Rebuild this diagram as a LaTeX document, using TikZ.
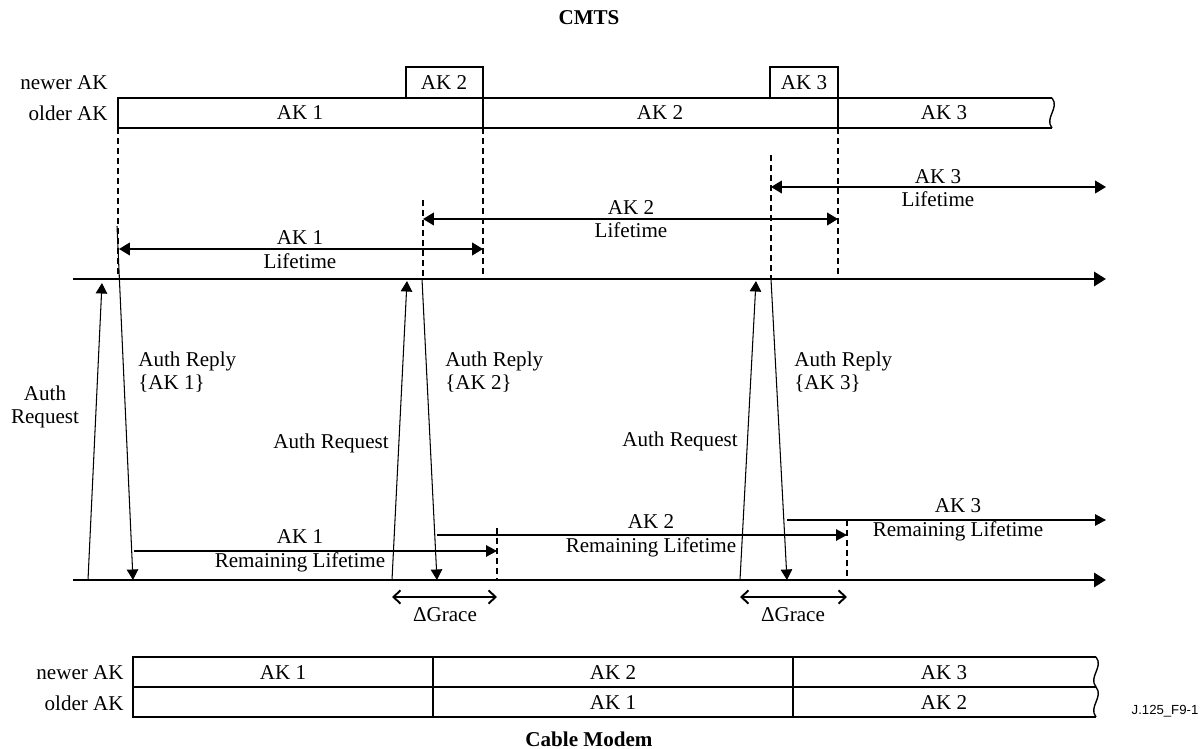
\documentclass[tikz,border=0pt]{standalone}
\usepackage{fontspec}
\setmainfont{Liberation Serif}
\newfontfamily\tagfont{Liberation Sans}
\usetikzlibrary{arrows.meta}
\tikzset{
  lbl/.style={font=\fontsize{12}{13.5}\selectfont, inner sep=0pt, align=center},
  head/.style={font=\fontsize{12}{13.5}\selectfont\bfseries, inner sep=0pt},
  timeline/.style={line width=1.6pt, -{Triangle[length=6.8pt,width=8pt]}},
  msg/.style={line width=0.6pt, -{Triangle[length=6pt,width=6.5pt]}},
  life/.style={line width=1pt, {Triangle[length=6.2pt,width=7.2pt]}-{Triangle[length=6.2pt,width=7.2pt]}},
  remain/.style={line width=0.7pt, -{Triangle[length=6.2pt,width=6.5pt]}},
  grace/.style={line width=1.1pt, {Straight Barb[length=4pt,width=7.5pt]}-{Straight Barb[length=4pt,width=7.5pt]}},
  guide/.style={line width=0.6pt, dash pattern=on 3.4pt off 2.3pt},
  akbox/.style={line width=0.8pt},
}
\newcommand\wavyend[3]{% x, top, bottom
  \draw[akbox] (#1,#2) .. controls (#1+8,#2+10) and (#1-8,#3-10) .. (#1,#3);}

\begin{document}
\begin{tikzpicture}[x=0.02cm,y=-0.02cm]
            \useasboundingbox (0,0) rectangle (1204,749);
              % Titles
              \node[head] (cmts) at (589,18) {CMTS};
              \node[head] (cm) at (589,739) {Cable Modem};
              \node[font=\tagfont\fontsize{7.5}{9}\selectfont, inner sep=0pt] (tag) at (1165,711) {J.125\_F9-1};

              % CMTS key table
              \node[lbl, anchor=east] (tnew) at (108,83) {newer AK};
              \node[lbl, anchor=east] (told) at (108,113) {older AK};
              \draw[akbox] (406,98) |- (483,67) -- (483,128);
              \draw[akbox] (770,98) |- (838,67) -- (838,128);
              \draw[akbox] (1052,98) -- (118,98) -- (118,128) -- (1052,128);
              \wavyend{1052}{98}{128}
              \node[lbl] (tn2) at (444,83) {AK 2};
              \node[lbl] (tn3) at (804,83) {AK 3};
              \node[lbl] (to1) at (300,113) {AK 1};
              \node[lbl] (to2) at (660,113) {AK 2};
              \node[lbl] (to3) at (944,113) {AK 3};

              % Time lines
              \coordinate (cmtsA) at (73,279);
              \coordinate (cmtsB) at (1106,279);
              \coordinate (cmA) at (73,580);
              \coordinate (cmB) at (1106,580);
              \draw[timeline] (cmtsA) -- (cmtsB);
              \draw[timeline] (cmA) -- (cmB);

              % Lifetimes at the CMTS
              \draw[guide] (118,128) -- (118,279);
              \draw[guide] (483,128) -- (483,279);
              \draw[guide] (838,128) -- (838,279);
              \draw[guide] (423,200) -- (423,279);
              \draw[guide] (771,155) -- (771,279);
              \coordinate (l1a) at (119,249);
              \coordinate (l1b) at (483,249);
              \coordinate (l2a) at (423,219);
              \coordinate (l2b) at (838,219);
              \coordinate (l3a) at (771,187);
              \coordinate (l3b) at (1106,187);
              \draw[life] (l1a) -- (l1b);
              \draw[life] (l2a) -- (l2b);
              \draw[life] (l3a) -- (l3b);
              \node[lbl] (life1) at (300,250) {AK 1\\Lifetime};
              \node[lbl] (life2) at (631,219) {AK 2\\Lifetime};
              \node[lbl] (life3) at (938,188) {AK 3\\Lifetime};

              % Requests and replies
              \coordinate (req1a) at (88,580);
              \coordinate (req1b) at (102,283);
              \coordinate (rep1a) at (117,226);
              \coordinate (rep1b) at (133,580);
              \coordinate (req2a) at (392,580);
              \coordinate (req2b) at (407,281);
              \coordinate (rep2a) at (422,279);
              \coordinate (rep2b) at (437,580);
              \coordinate (req3a) at (740,580);
              \coordinate (req3b) at (756,281);
              \coordinate (rep3a) at (771,279);
              \coordinate (rep3b) at (787,580);
              \draw[msg] (req1a) -- (req1b);
              \draw[msg] (rep1a) -- (rep1b);
              \draw[msg] (req2a) -- (req2b);
              \draw[msg] (rep2a) -- (rep2b);
              \draw[msg] (req3a) -- (req3b);
              \draw[msg] (rep3a) -- (rep3b);
              \node[lbl] (areq1) at (45,407) {Auth\\Request};
              \node[lbl, anchor=west, align=left] (arep1) at (138,372) {Auth Reply\\\{AK 1\}};
              \node[lbl] (areq2) at (331,443) {Auth Request};
              \node[lbl, anchor=west, align=left] (arep2) at (445,372) {Auth Reply\\\{AK 2\}};
              \node[lbl] (areq3) at (680,441) {Auth Request};
              \node[lbl, anchor=west, align=left] (arep3) at (794,372) {Auth Reply\\\{AK 3\}};

              % Remaining lifetimes at the modem
              \draw[guide] (497,528) -- (497,580);
              \draw[guide] (847,520) -- (847,580);
              \coordinate (r1a) at (134,551);
              \coordinate (r1b) at (497,551);
              \coordinate (r2a) at (437,535);
              \coordinate (r2b) at (847,535);
              \coordinate (r3a) at (787,520);
              \coordinate (r3b) at (1106,520);
              \draw[remain] (r1a) -- (r1b);
              \draw[remain] (r2a) -- (r2b);
              \draw[remain] (r3a) -- (r3b);
              \node[lbl] (rem1) at (300,551) {AK 1\\Remaining Lifetime};
              \node[lbl] (rem2) at (651,536) {AK 2\\Remaining Lifetime};
              \node[lbl] (rem3) at (958,520) {AK 3\\Remaining Lifetime};

              % Grace
              \coordinate (g1a) at (392,597);
              \coordinate (g1b) at (497,597);
              \coordinate (g2a) at (740,597);
              \coordinate (g2b) at (847,597);
              \draw[grace] (g1a) -- (g1b);
              \draw[grace] (g2a) -- (g2b);
              \node[lbl] (grace1) at (445,615) {ΔGrace};
              \node[lbl] (grace2) at (793,615) {ΔGrace};

              % Modem key table
              \node[lbl, anchor=east] (bnew) at (124,673) {newer AK};
              \node[lbl, anchor=east] (bold) at (124,703) {older AK};
              \draw[akbox] (1096,657) -- (133,657) -- (133,717) -- (1096,717);
              \draw[akbox] (133,687) -- (1096,687);
              \draw[akbox] (433,657) -- (433,717);
              \draw[akbox] (793,657) -- (793,717);
              \wavyend{1096}{657}{687}
              \wavyend{1096}{687}{717}
              \node[lbl] (bn1) at (283,673) {AK 1};
              \node[lbl] (bn2) at (613,673) {AK 2};
              \node[lbl] (bn3) at (944,673) {AK 3};
              \node[lbl] (bo1) at (613,703) {AK 1};
              \node[lbl] (bo2) at (944,703) {AK 2};
\end{tikzpicture}
\end{document}
